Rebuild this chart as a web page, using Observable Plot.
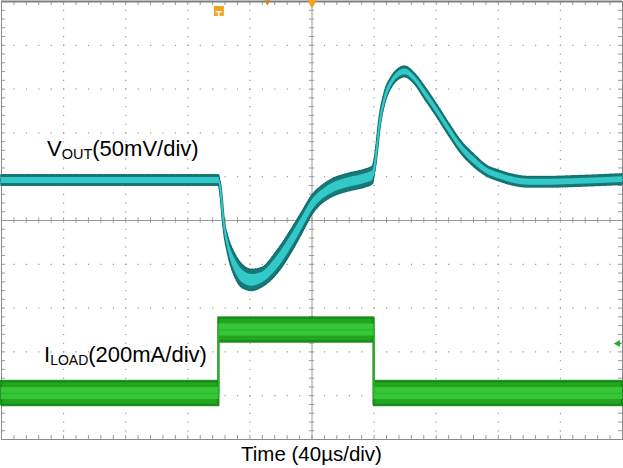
<!DOCTYPE html>
<html><head><meta charset="utf-8">
<script src="https://cdn.jsdelivr.net/npm/d3@7"></script>
<script src="https://cdn.jsdelivr.net/npm/@observablehq/plot@0.6"></script>
<style>
html,body{margin:0;padding:0;background:#fff;}
#wrap{width:623px;height:468px;position:relative;overflow:hidden;font-family:Arial,"Liberation Sans",sans-serif;}
#chart svg{display:block;}
#xlabel{position:absolute;left:0;top:442px;width:623px;text-align:center;font-size:20.5px;line-height:23px;color:#000;}
</style></head><body>
<div id="wrap"><div id="chart"></div><div id="xlabel">Time (40µs/div)</div></div>
<script>
// ---- data (time in µs from left edge of screen) ----
const voutTime   = [0, 140, 141.5, 142.8, 146, 150.5, 155.6, 161.4, 167.8, 177.5, 188, 194.5, 200.3, 205.5, 211.9, 224.4, 234, 239.2, 240.5, 243.7, 247, 251.4, 256.6, 259.8, 266.2, 272.7, 280.4, 288.7, 296.5, 304.8, 312.5, 320.9, 330.5, 340.2, 353, 372.3, 400];
const voutMv     = [0, 0, -17, -43, -74, -97, -110, -114, -111, -94, -66, -46, -28, -18, -10, -2, 2, 6, 17, 66, 94, 112, 122, 124, 116, 100, 80, 57, 37, 22, 11, 5, 0, -2, -2, -1, 1];
const voutSpread = [6, 6, 5, 6, 10, 13, 13, 12, 11, 13, 13, 12, 11, 10, 10, 10, 10, 10, 8, 7, 7, 6, 6, 6, 6, 7, 7, 7, 7, 7, 6, 6, 6, 6, 6, 6, 6];
const iloadTime  = [0, 140, 140, 240, 240, 400];
const iloadMa    = [0, 0, 290, 290, 0, 0];
const iloadNoise = 55;   // mA half-width of the noise envelope
const xDivs = [0, 40, 80, 120, 160, 200, 240, 280, 320, 360, 400];
const yDivs = [-5, -4, -3, -2, -1, 0, 1, 2, 3, 4, 5];
const voutScale = 50, iloadScale = 200;     // per division
const voutOffset = 0.913, iloadOffset = -3.95, iloadMarker = -2.81; // divisions
const triggerTime = 140, centerTime = 200;

const vRows = voutTime.map((t, i) => ({
  t,
  y: voutOffset + voutMv[i] / voutScale,
  lo: voutOffset + (voutMv[i] - voutSpread[i]) / voutScale,
  hi: voutOffset + (voutMv[i] + voutSpread[i]) / voutScale,
  lo2: voutOffset + (voutMv[i] - voutSpread[i] * 0.55) / voutScale,
  hi2: voutOffset + (voutMv[i] + voutSpread[i] * 0.55) / voutScale
}));
const iRows = iloadTime.map((t, i) => ({
  t,
  y: iloadOffset + iloadMa[i] / iloadScale,
  lo: iloadOffset + (iloadMa[i] - iloadNoise) / iloadScale,
  hi: iloadOffset + (iloadMa[i] + iloadNoise) / iloadScale,
  lo2: iloadOffset + (iloadMa[i] - iloadNoise * 0.5) / iloadScale,
  hi2: iloadOffset + (iloadMa[i] + iloadNoise * 0.5) / iloadScale
}));
const minorT = d3.range(0, 400.01, 8);
const minorD = d3.range(-5, 5.001, 0.2);
const gridC = "#9a9a9a";

const plot = Plot.plot({
  width: 623, height: 440,
  marginLeft: 1, marginRight: 1, marginTop: 1, marginBottom: 1,
  x: {domain: [0, 400], axis: null},
  y: {domain: [-5, 5], axis: null},
  marks: [
    Plot.ruleX(xDivs.filter(t => t > 0 && t < 400 && t !== centerTime), {stroke: gridC, strokeWidth: 1.2, strokeDasharray: "1.2,7.56"}),
    Plot.ruleY(yDivs.filter(d => d > -5 && d < 5 && d !== 0), {stroke: gridC, strokeWidth: 1.2, strokeDasharray: "1.2,11.22"}),
    Plot.ruleX([centerTime], {stroke: gridC}),
    Plot.ruleY([0], {stroke: gridC}),
    Plot.ruleX(minorT, {y1: -0.06, y2: 0.06, stroke: gridC}),
    Plot.ruleY(minorD, {x1: centerTime - 1.7, x2: centerTime + 1.7, stroke: gridC}),
    Plot.ruleY(minorD, {x1: 0, x2: 2.6, stroke: gridC}),
    Plot.ruleY(minorD, {x1: 397.4, x2: 400, stroke: gridC}),
    Plot.ruleX(minorT, {y1: -5, y2: -4.91, stroke: gridC}),
    Plot.ruleX(minorT, {y1: 4.91, y2: 5, stroke: gridC}),
    Plot.frame({stroke: "#8a8a8a"}),
    Plot.ruleY([5], {stroke: "#808080", strokeWidth: 2}),
    // ILOAD trace
    Plot.areaY(iRows, {x: "t", y1: "lo", y2: "hi", fill: "#22a622", stroke: "#108510", strokeWidth: 2.5, strokeDasharray: "1,1.6", strokeOpacity: 0.9}),
    Plot.areaY(iRows, {x: "t", y1: "lo2", y2: "hi2", fill: "#36c636"}),
    Plot.line(iRows, {x: "t", y: "y", stroke: "#2db82d", strokeWidth: 1.3}),
    // VOUT trace
    Plot.areaY(vRows, {x: "t", y1: "lo", y2: "hi", fill: "#167b78", stroke: "#126e6c", strokeWidth: 1.6, strokeDasharray: "1,1.4", curve: "monotone-x"}),
    Plot.line(vRows, {x: "t", y: "y", stroke: "#167b78", strokeWidth: 3, curve: "monotone-x"}),
    Plot.areaY(vRows, {x: "t", y1: "lo2", y2: "hi2", fill: "#34c8c8", curve: "monotone-x"}),
    Plot.line(vRows, {x: "t", y: "y", stroke: "#34c8c8", strokeWidth: 1.6, curve: "monotone-x"}),
    // markers
    Plot.dot([triggerTime], {x: d => d, frameAnchor: "top", dy: 9.5, symbol: "square", r: 5.6, fill: "#f4a21e"}),
    Plot.text([triggerTime], {x: d => d, frameAnchor: "top", dy: 10, text: () => "T", fill: "#fff", fontWeight: "bold", fontSize: 10, fontFamily: "Arial, Liberation Sans, sans-serif"}),
    Plot.dot([centerTime], {x: d => d, frameAnchor: "top", dy: 1.5, symbol: "triangle", rotate: 180, r: 3.5, fill: "#f4a21e"}),
    Plot.dot([171.3], {x: d => d, frameAnchor: "top", dy: 0.5, symbol: "triangle", rotate: 180, r: 2.2, fill: "#c8862a"}),
    Plot.dot([iloadMarker], {x: () => 397, y: d => d, symbol: "triangle", rotate: -90, r: 2.6, fill: "#22b022"}),
    Plot.ruleY([iloadMarker], {x1: 397, x2: 399.5, stroke: "#22b022", strokeWidth: 1.2})
  ]
});
document.getElementById("chart").appendChild(plot);

const svg = d3.select(plot);
function label(x, y, main, sub, rest, subSize, subDy) {
  const t = svg.append("text").attr("x", x).attr("y", y).attr("text-anchor", "start")
    .attr("font-family", "Arial, 'Liberation Sans', sans-serif").attr("font-size", 22).attr("fill", "#000");
  t.append("tspan").text(main);
  t.append("tspan").attr("font-size", subSize).attr("dy", subDy).text(sub);
  t.append("tspan").attr("dy", -subDy).text(rest);
}
label(47, 156, "V", "OUT", "(50mV/div)", 14.5, 2.5);
label(44, 362, "I", "LOAD", "(200mA/div)", 14, 2.5);
</script>
</body></html>
